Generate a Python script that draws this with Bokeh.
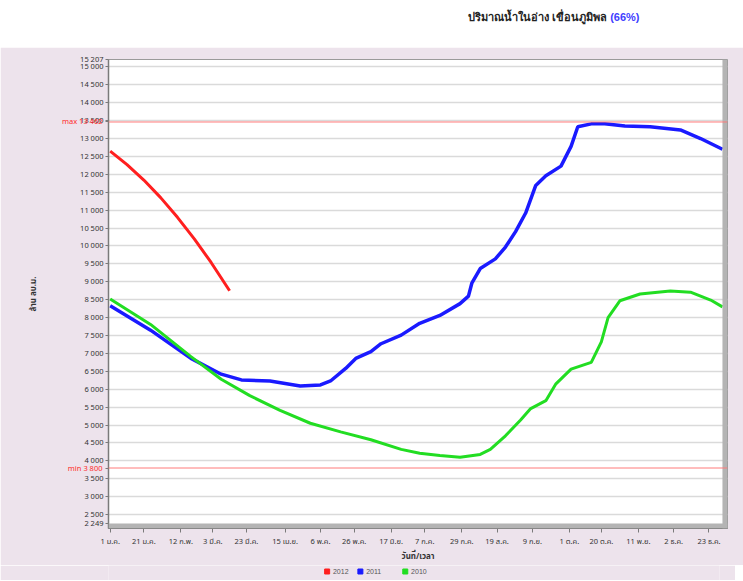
from bokeh.plotting import figure
from bokeh.models import (FixedTicker, Span, BoxAnnotation, Div, Range1d, LinearAxis)
from bokeh.layouts import column
from bokeh.embed import file_html
from bokeh.resources import INLINE

# ---------------- data (day of year, million m3) ----------------
days_2012 = [1, 11, 21, 31, 41, 51, 61, 72]
vol_2012 = [12650, 12270, 11840, 11350, 10800, 10200, 9540, 8750]

days_2011 = [1, 25, 49, 67, 79, 96, 114, 126, 132, 141, 147, 156, 162, 174, 185,
             197, 209, 214, 216, 221, 230, 236, 242, 248, 254, 260, 269, 275, 279,
             287, 295, 307, 322, 340, 352, 365]
vol_2011 = [8330, 7650, 6860, 6420, 6260, 6230, 6090, 6120, 6230, 6580, 6860, 7050,
            7270, 7510, 7840, 8060, 8390, 8600, 8960, 9370, 9640, 9970, 10400, 10920,
            11690, 11960, 12230, 12780, 13330, 13410, 13410, 13350, 13330, 13240,
            13000, 12700]

days_2010 = [1, 25, 49, 67, 84, 102, 120, 138, 156, 174, 185, 197, 209, 221, 227,
             236, 245, 251, 260, 266, 275, 287, 293, 297, 304, 316, 334, 346, 358, 365]
vol_2010 = [8520, 7810, 6910, 6280, 5820, 5410, 5050, 4810, 4590, 4320, 4210, 4150,
            4100, 4180, 4320, 4700, 5140, 5460, 5680, 6150, 6560, 6750, 7320, 8000,
            8470, 8660, 8740, 8710, 8490, 8300]

series_names = ["2012", "2011", "2010"]
series_colors = ["#ff1f1f", "#1a1aff", "#22dd22"]

max_level = 13462
min_level = 3800
y_top = 15207
y_bottom = 2249
y_start = 2111

x_tick_days = [1, 21, 43, 62, 82, 105, 126, 146, 168, 188, 210, 231, 252, 274, 293,
               315, 336, 357]
x_tick_labels = ["1 ม.ค.", "21 ม.ค.", "12 ก.พ.", "3 มี.ค.", "23 มี.ค.", "15 เม.ย.",
                 "6 พ.ค.", "26 พ.ค.", "17 มิ.ย.", "7 ก.ค.", "29 ก.ค.", "19 ส.ค.",
                 "9 ก.ย.", "1 ต.ค.", "20 ต.ค.", "11 พ.ย.", "2 ธ.ค.", "23 ธ.ค."]

y_grid_ticks = list(range(2500, 15001, 500))

FONT = "Tahoma, 'Noto Sans Thai', 'DejaVu Sans', sans-serif"
PINK = "#ede3ec"
W = 743

def fmt(v):
    return f"{v:,}".replace(",", " ")

title_html = (
    "<div style=\"margin-left:463px;margin-top:5px;font-weight:bold;font-size:11px;"
    "font-family:Tahoma, sans-serif;color:#222;white-space:nowrap\">"
    "ปริมาณน้ำในอ่าง เขื่อนภูมิพล <span style=\"color:#4040ff\">(66%)</span></div>"
)
title_div = Div(text=title_html, width=W, height=37)

p = figure(width=W, height=518,
           x_range=Range1d(0, 368), y_range=Range1d(y_start, y_top),
           output_backend="svg", toolbar_location=None,
           min_border_left=108, min_border_right=16, min_border_top=12,
           min_border_bottom=32,
           border_fill_color=PINK, background_fill_color="white")
p.outline_line_color = "#9a9a9a"

# gray 3D-like bars at right and bottom of frame
p.add_layout(BoxAnnotation(left=365, fill_color="#b4b4b4", fill_alpha=1, line_alpha=0))
p.add_layout(BoxAnnotation(top=y_bottom, fill_color="#b4b4b4", fill_alpha=1, line_alpha=0))

# grid
p.xgrid.visible = False
p.ygrid.ticker = FixedTicker(ticks=y_grid_ticks)
p.ygrid.grid_line_color = "#dadada"
p.ygrid.grid_line_width = 1.5

# max / min lines
p.add_layout(Span(location=max_level, dimension="width", line_color="#ff7a7a", line_width=1))
p.add_layout(Span(location=min_level, dimension="width", line_color="#ff7a7a", line_width=1))

# series
p.line(days_2012, vol_2012, line_color=series_colors[0], line_width=3)
p.line(days_2011, vol_2011, line_color=series_colors[1], line_width=3.5)
p.line(days_2010, vol_2010, line_color=series_colors[2], line_width=3)

# y axis (black labels)
y_ticks = [y_bottom] + y_grid_ticks + [y_top, max_level, min_level]
overrides = {t: fmt(t) for t in y_ticks}
overrides[max_level] = ""
overrides[min_level] = ""
p.yaxis.ticker = FixedTicker(ticks=y_ticks)
p.yaxis.major_label_overrides = overrides
p.yaxis.major_label_text_font_size = "7.5px"
p.yaxis.major_label_text_font = FONT
p.yaxis.major_label_text_color = "#333333"
p.yaxis.major_label_standoff = 2
p.yaxis.major_tick_out = 3
p.yaxis.major_tick_in = 0
p.yaxis.minor_tick_out = 0
p.yaxis.axis_line_color = "#7a7a7a"
p.yaxis.axis_line_width = 1.5
p.yaxis.major_tick_line_color = "#7a7a7a"

# second left axis carrying the red max/min labels, pulled back over the first one
red_axis = LinearAxis(
    ticker=FixedTicker(ticks=[max_level, min_level]),
    major_label_overrides={max_level: "max " + fmt(max_level), min_level: "min " + fmt(min_level)},
    major_label_text_color="#ff2a2a", major_label_text_font_size="7.5px",
    major_label_text_font=FONT, major_label_standoff=-25,
    major_tick_out=0, major_tick_in=0, minor_tick_out=0, minor_tick_in=0,
    axis_line_color=None,
    axis_label="ล้าน ลบ.ม.", axis_label_text_font=FONT, axis_label_text_font_size="8px",
    axis_label_text_font_style="bold", axis_label_text_color="#333333",
    axis_label_standoff=19)
p.add_layout(red_axis, "left")

# x axis
p.xaxis.ticker = FixedTicker(ticks=x_tick_days)
p.xaxis.major_label_overrides = dict(zip(x_tick_days, x_tick_labels))
p.xaxis.major_label_text_font_size = "7.5px"
p.xaxis.major_label_text_font = FONT
p.xaxis.major_label_text_color = "#333333"
p.xaxis.major_label_standoff = 3
p.xaxis.major_tick_out = 4
p.xaxis.major_tick_in = 0
p.xaxis.minor_tick_out = 0
p.xaxis.axis_line_color = "#7a7a7a"
p.xaxis.major_tick_line_color = "#7a7a7a"
p.xaxis.axis_label = "วันที่/เวลา"
p.xaxis.axis_label_text_font = FONT
p.xaxis.axis_label_text_font_size = "8px"
p.xaxis.axis_label_text_font_style = "bold"
p.xaxis.axis_label_text_color = "#333333"
p.xaxis.axis_label_standoff = 1

# legend strip under the chart (positions are layout pixels)
legend_marker_x = [263, 303, 357]
legend_text_x = [270, 310, 364]
leg = figure(width=735, height=15, x_range=Range1d(0, 735), y_range=Range1d(0, 1),
             output_backend="svg", toolbar_location=None, min_border=0,
             border_fill_color=PINK, background_fill_color=PINK)
leg.outline_line_color = None
leg.axis.visible = False
leg.grid.visible = False
leg.scatter(legend_marker_x, [0.6] * 3, marker="square", size=5, color=series_colors)
leg.text(legend_text_x, [0.6] * 3, text=series_names, text_font_size="7px",
         text_baseline="middle", text_color="#555555")

layout = column(title_div, p, leg)
open("out.html", "w").write(file_html(layout, INLINE))
